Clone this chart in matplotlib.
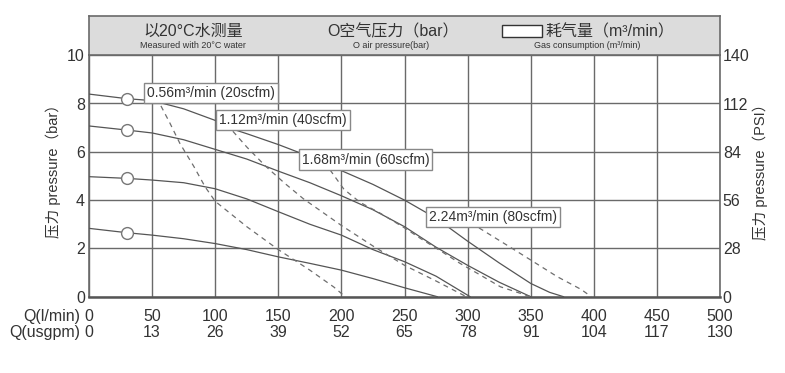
"""Curvas de rendimiento de bomba neumática (caudal vs presión)."""

import matplotlib.pyplot as plt
from matplotlib.patches import Rectangle
from matplotlib.transforms import blended_transform_factory

plt.rcParams["font.family"] = ["Liberation Sans", "Noto Sans CJK SC", "DejaVu Sans"]

# ejes
Q_TICKS = [0, 50, 100, 150, 200, 250, 300, 350, 400, 450, 500]
USGPM_TICKS = [0, 13, 26, 39, 52, 65, 78, 91, 104, 117, 130]
BAR_TICKS = [0, 2, 4, 6, 8, 10]
PSI_TICKS = [0, 28, 56, 84, 112, 140]

# curvas de presión (bar)
q_p84 = [0, 30, 50, 75, 100, 112, 125, 150, 175, 200, 225, 250, 275, 300, 325, 350, 365, 376]
p_p84 = [8.39, 8.2, 8.12, 7.78, 7.3, 6.97, 6.75, 6.3, 5.8, 5.22, 4.65, 4.0, 3.25, 2.3, 1.4, 0.55, 0.18, 0.0]

q_p71 = [0, 30, 50, 75, 100, 125, 150, 175, 200, 225, 250, 275, 300, 325, 350]
p_p71 = [7.07, 6.9, 6.78, 6.5, 6.1, 5.7, 5.2, 4.72, 4.18, 3.6, 2.9, 2.05, 1.3, 0.6, 0.0]

q_p50 = [0, 30, 50, 75, 100, 125, 150, 175, 200, 225, 250, 275, 302]
p_p50 = [4.97, 4.9, 4.83, 4.72, 4.47, 4.05, 3.52, 3.0, 2.55, 1.95, 1.45, 0.85, 0.0]

q_p28 = [0, 30, 50, 75, 100, 125, 150, 175, 200, 225, 250, 276]
p_p28 = [2.83, 2.65, 2.55, 2.4, 2.2, 1.95, 1.65, 1.38, 1.1, 0.75, 0.37, 0.0]

# curvas de consumo de aire (discontinuas)
q_a056 = [57, 64, 72, 83, 92, 100, 125, 150, 175, 194, 203]
p_a056 = [7.9, 7.2, 6.35, 5.4, 4.55, 3.95, 2.9, 1.95, 1.1, 0.4, 0.0]

q_a112 = [114, 125, 140, 155, 170, 185, 200, 225, 250, 275, 299]
p_a112 = [6.85, 6.2, 5.4, 4.7, 4.05, 3.5, 2.95, 2.1, 1.3, 0.65, 0.0]

q_a168 = [191, 202, 215, 231, 250, 263, 280, 294, 310, 326, 350]
p_a168 = [5.25, 4.45, 3.9, 3.45, 2.85, 2.4, 1.85, 1.38, 0.9, 0.41, 0.0]

q_a224 = [309, 331, 350, 371, 390, 398]
p_a224 = [2.85, 2.14, 1.52, 0.83, 0.3, 0.0]

# marcadores
circle_q = [30, 30, 30, 30]
circle_p = [8.2, 6.9, 4.9, 2.65]

# etiquetas de consumo
label_texts = ["0.56m³/min (20scfm)", "1.12m³/min (40scfm)",
               "1.68m³/min (60scfm)", "2.24m³/min (80scfm)"]
label_q = [46, 103, 168.5, 269.5]
label_p = [8.43, 7.31, 5.68, 3.31]

W, H = 785, 373
GRID = "#6a6a6a"
LINE = "#555555"

fig = plt.figure(figsize=(W / 100, H / 100), dpi=100)
ax = fig.add_axes([89 / W, 76.3 / H, 631 / W, 241.5 / H])
head = fig.add_axes([89 / W, 317.8 / H, 631 / W, 39.5 / H])

ax.set_xlim(0, 500)
ax.set_ylim(0, 10)
ax.set_xticks(Q_TICKS)
ax.set_xticklabels([])
ax.set_yticks(BAR_TICKS)
ax.set_yticklabels([str(v) for v in BAR_TICKS], fontsize=11.5)
ax.tick_params(length=0, pad=3)
ax.grid(True, color=GRID, linewidth=1.0)
ax.set_axisbelow(True)
for side, sp in ax.spines.items():
    sp.set_color(GRID)
    sp.set_linewidth(1.2)
ax.spines["bottom"].set_linewidth(1.8)
ax.spines["bottom"].set_color("#555555")

ax2 = ax.twinx()
ax2.set_ylim(0, 140)
ax2.set_yticks(PSI_TICKS)
ax2.set_yticklabels([str(v) for v in PSI_TICKS], fontsize=11.5)
ax2.tick_params(length=0, pad=2)
for sp in ax2.spines.values():
    sp.set_visible(False)

for q, p in [(q_p84, p_p84), (q_p71, p_p71), (q_p50, p_p50), (q_p28, p_p28)]:
    ax.plot(q, p, color=LINE, linewidth=0.9, zorder=3)

for q, p in [(q_a056, p_a056), (q_a112, p_a112), (q_a168, p_a168), (q_a224, p_a224)]:
    ax.plot(q, p, color="#6e6e6e", linewidth=0.9, linestyle=(0, (4, 3.5)), zorder=3)

ax.plot(circle_q, circle_p, linestyle="none", marker="o", markersize=8.5,
        markerfacecolor="white", markeredgecolor="#777777", markeredgewidth=1.0, zorder=4)

for txt, q, p in zip(label_texts, label_q, label_p):
    ax.text(q, p, txt, fontsize=10, color="#333333", ha="left", va="center", zorder=5,
            bbox=dict(boxstyle="square,pad=0.22", facecolor="white", edgecolor="#888888", linewidth=1.0))

# etiquetas del eje X (dos filas)
trans = blended_transform_factory(ax.transData, ax.transAxes)
for q, g in zip(Q_TICKS, USGPM_TICKS):
    ax.text(q, -0.080, str(q), transform=trans, ha="center", va="center", fontsize=11.5, color="#333333")
    ax.text(q, -0.150, str(g), transform=trans, ha="center", va="center", fontsize=11.5, color="#333333")
ax.text(-7, -0.080, "Q(l/min)", transform=trans, ha="right", va="center", fontsize=11.5, color="#333333")
ax.text(-7, -0.150, "Q(usgpm)", transform=trans, ha="right", va="center", fontsize=11.5, color="#333333")

for t in ax.get_yticklabels() + ax2.get_yticklabels():
    t.set_color("#333333")

fig.text(53 / W, 1 - 168 / H, "压力 pressure（bar）", rotation=90, ha="center", va="center",
         fontsize=10.5, color="#333333")
fig.text(760 / W, 1 - 168 / H, "压力 pressure（PSI）", rotation=90, ha="center", va="center",
         fontsize=10.5, color="#333333")

# cabecera
head.set_facecolor("#dcdcdc")
head.set_xlim(0, 500)
head.set_ylim(0, 1)
head.set_xticks([])
head.set_yticks([])
for sp in head.spines.values():
    sp.set_color(GRID)
    sp.set_linewidth(1.2)

head.text(82.5, 0.60, "以20°C水测量", ha="center", va="center", fontsize=11.5, color="#333333")
head.text(82.5, 0.25, "Measured with 20°C water", ha="center", va="center", fontsize=6.5, color="#333333")
head.text(240.5, 0.60, "O空气压力（bar）", ha="center", va="center", fontsize=11.5, color="#333333")
head.text(239, 0.25, "O air pressure(bar)", ha="center", va="center", fontsize=6.5, color="#333333")
head.add_patch(Rectangle((327.5, 0.47), 31.8, 0.30, facecolor="white", edgecolor="#333333", linewidth=1.0))
head.text(361.5, 0.60, "耗气量（m³/min）", ha="left", va="center", fontsize=11.5, color="#333333")
head.text(395, 0.25, "Gas consumption (m³/min)", ha="center", va="center", fontsize=6.5, color="#333333")

fig.savefig("out.png", dpi=100, facecolor="white")
